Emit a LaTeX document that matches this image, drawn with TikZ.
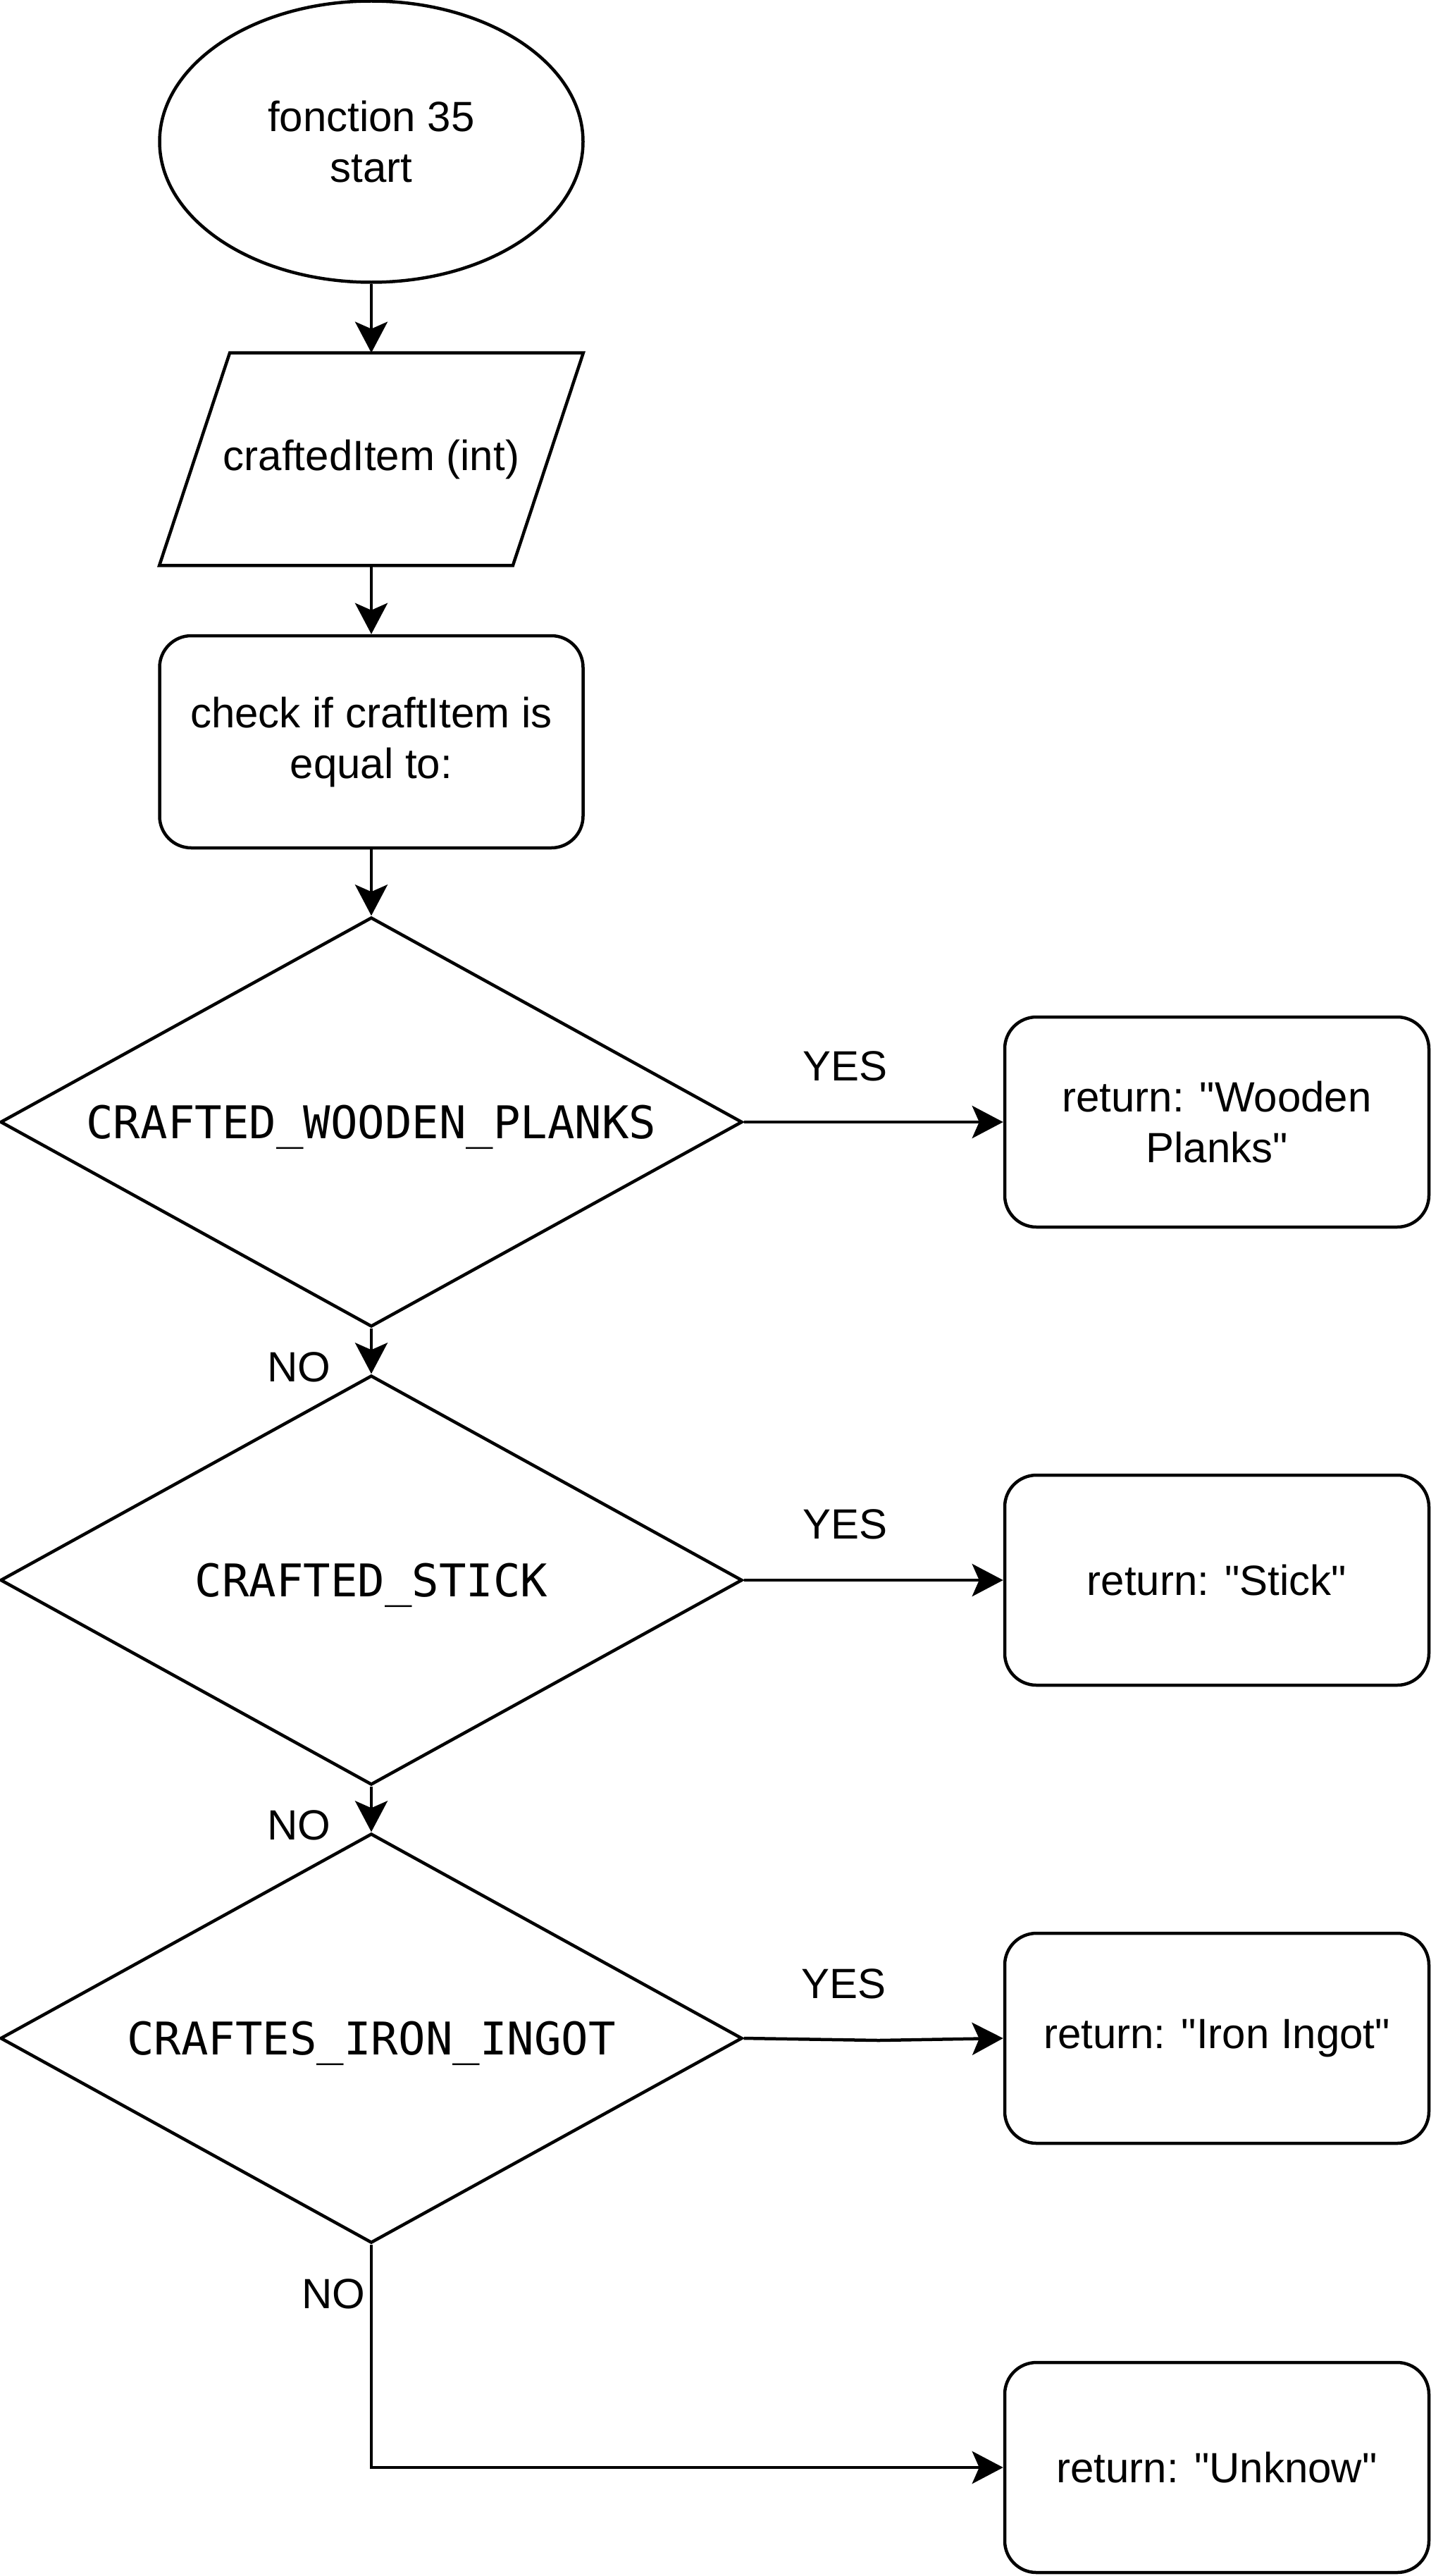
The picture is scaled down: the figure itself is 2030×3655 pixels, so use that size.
\documentclass[tikz,border=0pt]{standalone}
\usepackage{fontspec}
\setmainfont{Liberation Sans}[Ligatures=TeXOff]
\newfontfamily\codefont{DejaVu Sans Mono}[Ligatures=TeXOff]
\usetikzlibrary{shapes.geometric,arrows.meta}
\begin{document}
\begin{tikzpicture}[x=0.5pt,y=-0.5pt,
  base/.style={draw=black,line width=2.25pt,inner sep=0pt,font=\fontsize{30pt}{36pt}\selectfont,align=center},
  startnode/.style={base,ellipse,minimum width=300.5pt,minimum height=199.5pt},
  inbox/.style={inner sep=0pt,minimum width=300.5pt,minimum height=150.5pt,font=\fontsize{30pt}{36pt}\selectfont,align=center},
  procbox/.style={base,rectangle,rounded corners=22.5pt,minimum width=300.5pt,minimum height=150.5pt},
  retbox/.style={base,rectangle,rounded corners=22.5pt,minimum width=301pt,minimum height=149pt},
  decision/.style={base,diamond,aspect=1.81,minimum width=526.5pt,minimum height=290.5pt,text depth=0pt,font=\codefont\fontsize{32pt}{38pt}\selectfont},
  conn/.style={line width=2.25pt,-{Stealth[length=22pt,width=23pt,inset=5pt]}},
  lbl/.style={font=\fontsize{30pt}{36pt}\selectfont,inner sep=0pt}]
\useasboundingbox (0,0) rectangle (2030,3655);

\node[startnode] (start) at (527,201) {fonction 35\\start};
\node[inbox] (inp) at (527,651.5) {craftedItem (int)};
\draw[line width=2.25pt,line join=miter] ([xshift=50pt]inp.north west) -- (inp.north east) -- ([xshift=-50pt]inp.south east) -- (inp.south west) -- cycle;
\node[procbox] (chk) at (527,1052.5) {check if craftItem is\\equal to:};

\node[decision] (d1) at (527,1592) {CRAFTED\_WOODEN\_PLANKS};
\node[decision] (d2) at (527,2242) {CRAFTED\_STICK};
\node[decision] (d3) at (527,2892) {CRAFTES\_IRON\_INGOT};

\node[retbox] (r1) at (1727,1592) {return: "Wooden\\Planks"};
\node[retbox] (r2) at (1727,2242) {return: "Stick"};
\node[retbox] (r3) at (1727,2892) {return: "Iron Ingot"};
\node[retbox] (r4) at (1727,3501) {return: "Unknow"};

\coordinate (m3) at (1247,2895);

\draw[conn] (start.south) -- (inp.north);
\draw[conn] (inp.south) -- (chk.north);
\draw[conn] (chk.south) -- (d1.north);

\draw[conn] (d1.east) -- node[lbl,pos=0.39,yshift=39.5pt] {YES} (r1.west);
\draw[conn] (d2.east) -- node[lbl,pos=0.39,yshift=39.5pt] {YES} (r2.west);
\draw[conn] (d3.east) -- node[lbl,pos=0.74,yshift=39.5pt] {YES} (m3) -- (r3.west);

\draw[conn] (d1.south) -- node[lbl,pos=0.86,xshift=-51.5pt] {NO} (d2.north);
\draw[conn] (d2.south) -- node[lbl,pos=0.86,xshift=-51.5pt] {NO} (d3.north);
\draw[conn] (d3.south) |- node[lbl,pos=0.11,xshift=-27pt] {NO} (r4.west);
\end{tikzpicture}
\end{document}
